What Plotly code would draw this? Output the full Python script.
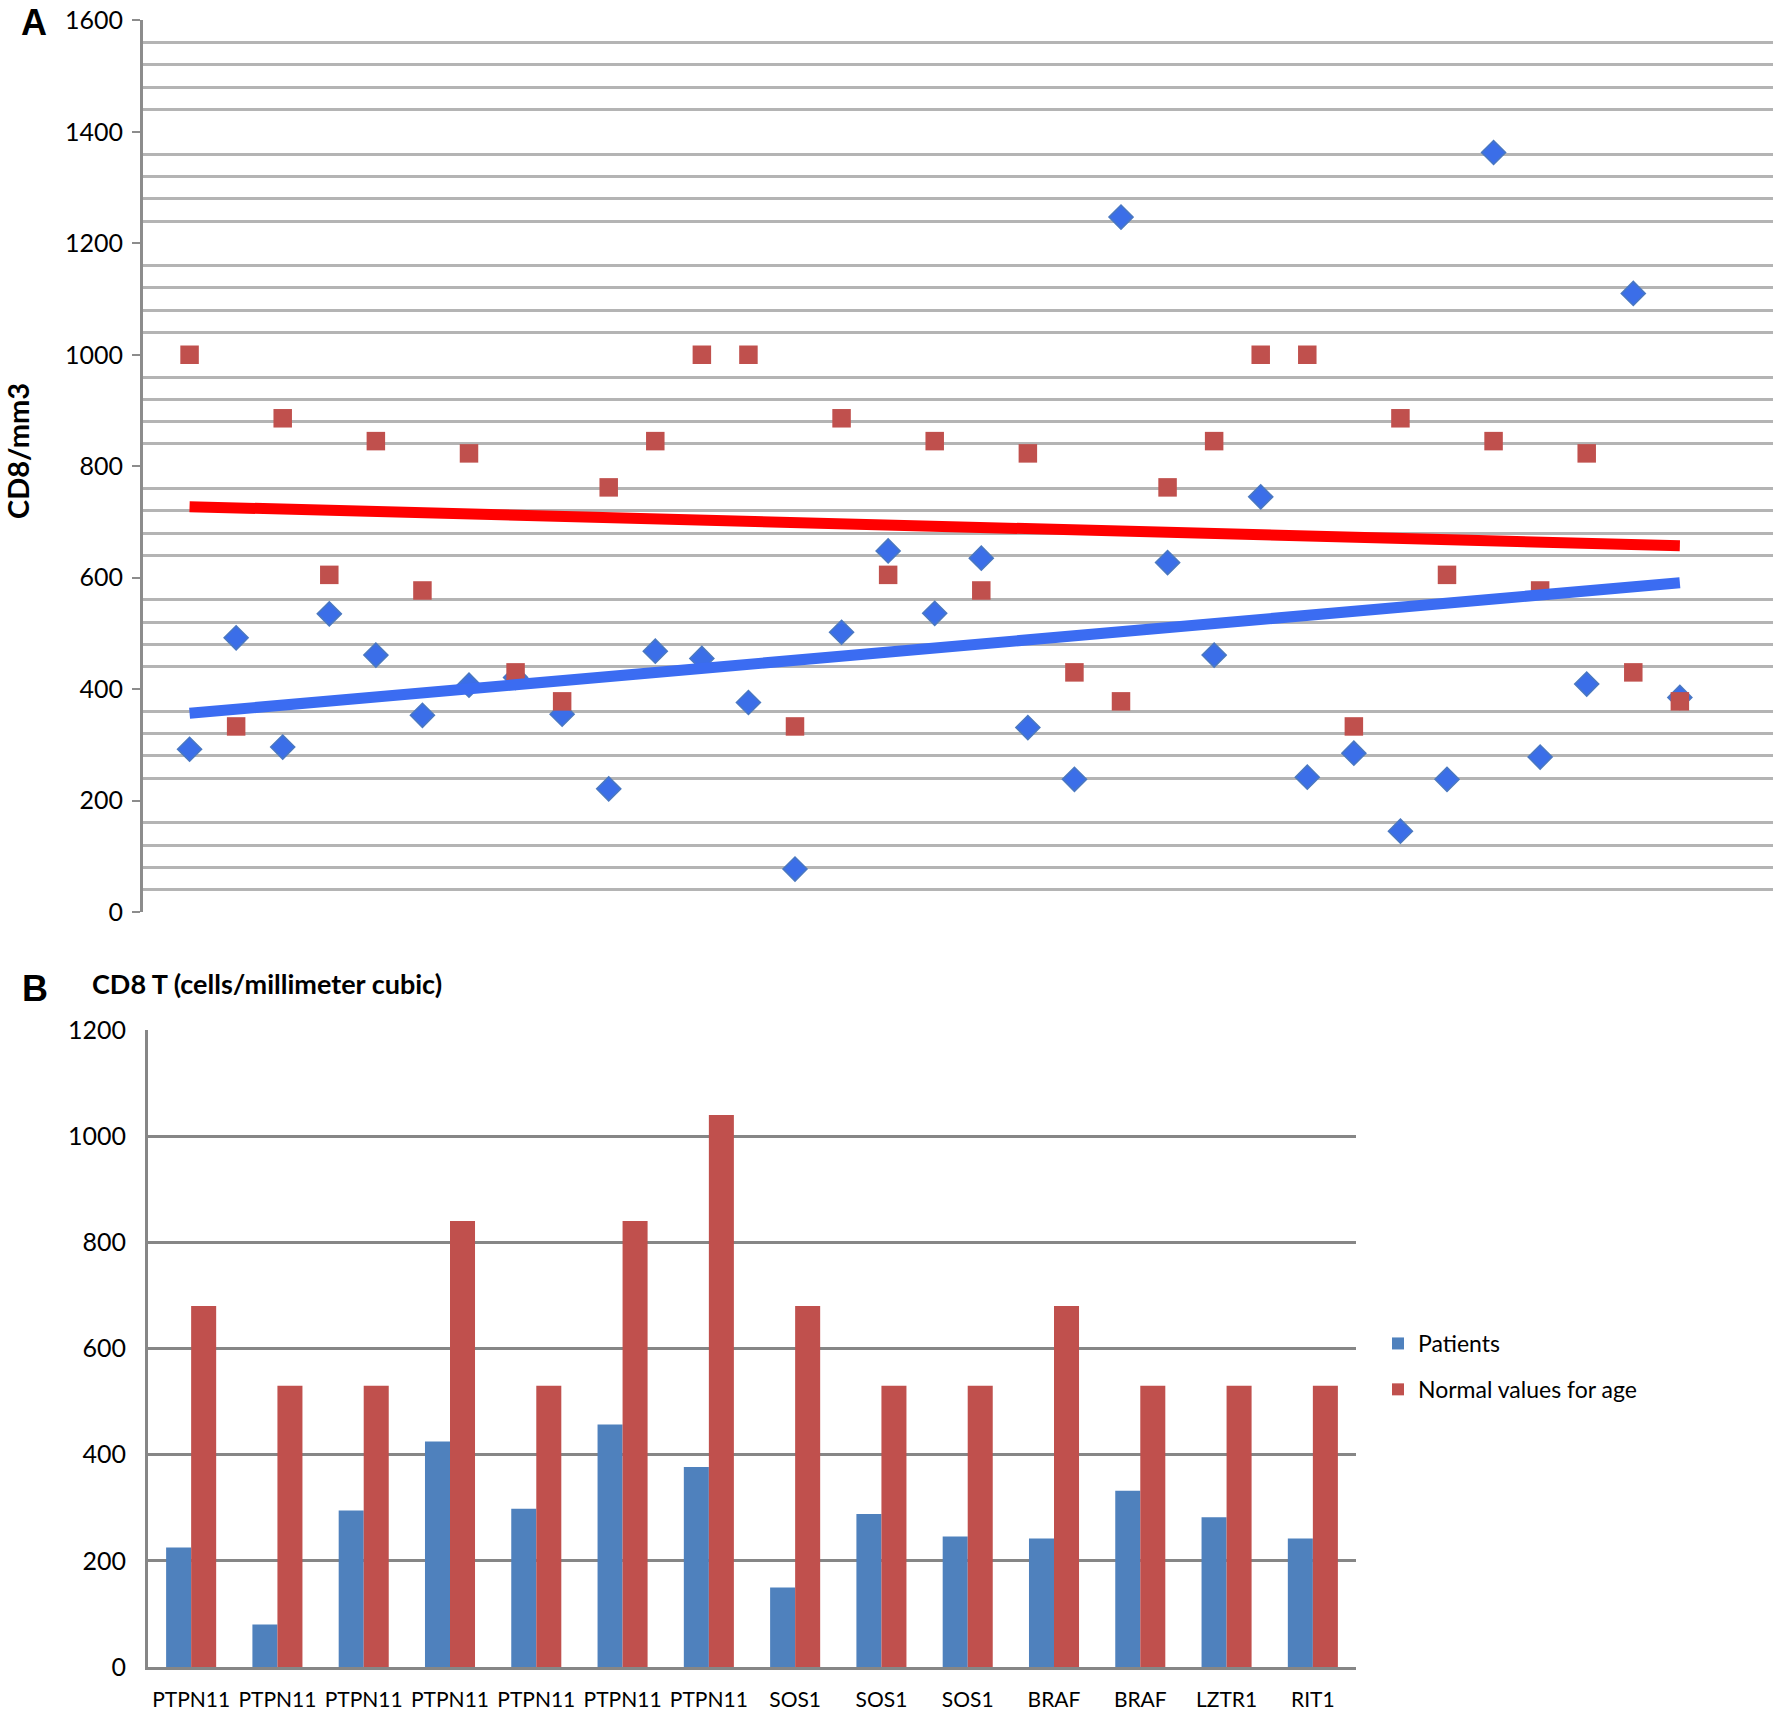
import numpy as np
import plotly.graph_objects as go

# ---------------- Panel A data ----------------
patient_index = list(range(1, 34))
patients_a = [292, 492, 296, 535, 461, 353, 407, 421, 355, 221, 468, 455, 376, 77,
              502, 648, 536, 635, 331, 238, 1247, 627, 461, 745, 242, 285, 145,
              238, 1363, 278, 409, 1110, 385]
normal_a = [1000, 333, 886, 605, 845, 577, 823, 430, 378, 762, 845, 1000,
            1000, 333, 886, 605, 845, 577, 823, 430, 378, 762, 845, 1000,
            1000, 333, 886, 605, 845, 577, 823, 430, 378]

# ---------------- Panel B data ----------------
genes = ["PTPN11", "PTPN11", "PTPN11", "PTPN11", "PTPN11", "PTPN11", "PTPN11",
         "SOS1", "SOS1", "SOS1", "BRAF", "BRAF", "LZTR1", "RIT1"]
patients_b = [225, 80, 295, 425, 298, 457, 377, 150, 288, 246, 242, 332, 282, 242]
normal_b = [680, 530, 530, 840, 530, 840, 1040, 680, 530, 530, 680, 530, 530, 530]

W, H = 1776, 1712
FONT = "Lato, 'Open Sans', sans-serif"

def px(x):
    return x / W

def py(y):
    return 1 - y / H

fig = go.Figure()

# Scatter A
fig.add_trace(go.Scatter(
    x=patient_index, y=patients_a, mode="markers", showlegend=False,
    marker=dict(symbol="diamond", size=18.5, color="#3b6ee8",
                line=dict(color="#4a78c0", width=1.5)),
    xaxis="x", yaxis="y"))
fig.add_trace(go.Scatter(
    x=patient_index, y=normal_a, mode="markers", showlegend=False,
    marker=dict(symbol="square", size=18.5, color="#c0504d"),
    xaxis="x", yaxis="y"))

# Linear trend lines
xs = np.array(patient_index, dtype=float)
for vals, col in [(normal_a, "#ff0000"), (patients_a, "#3b6cf2")]:
    m, b = np.polyfit(xs, np.array(vals, dtype=float), 1)
    xe = [xs[0], xs[-1]]
    fig.add_trace(go.Scatter(
        x=xe, y=[m * v + b for v in xe], mode="lines", showlegend=False,
        line=dict(color=col, width=11), xaxis="x", yaxis="y"))

# Bars B
cat_pos = list(range(len(genes)))
fig.add_trace(go.Bar(x=cat_pos, y=patients_b, name="Patients",
                     marker=dict(color="#4f81bd", line=dict(width=0)),
                     legendgroup="p", xaxis="x2", yaxis="y2"))
fig.add_trace(go.Bar(x=cat_pos, y=normal_b, name="Normal values for age",
                     marker=dict(color="#c0504d", line=dict(width=0)),
                     legendgroup="n", xaxis="x2", yaxis="y2"))

fig.update_layout(
    template="none",
    width=W, height=H,
    margin=dict(l=0, r=0, t=0, b=0, pad=0, autoexpand=False),
    paper_bgcolor="white", plot_bgcolor="white",
    barmode="group", bargap=0.42, bargroupgap=0,
    font=dict(family=FONT, color="#000000"),
    legend=dict(x=px(1378), y=py(1322), xanchor="left", yanchor="top",
                font=dict(family=FONT, size=23, color="#000000"),
                tracegroupgap=13, itemwidth=30, bgcolor="rgba(0,0,0,0)"),
    xaxis=dict(domain=[px(143), px(1773)], range=[0, 35], visible=False,
               anchor="y", automargin=False),
    yaxis=dict(domain=[py(912), py(20.4)], range=[0, 1600], anchor="x",
               automargin=False,
               tick0=0, dtick=200, showgrid=False, zeroline=False,
               ticks="outside", ticklen=8, tickwidth=2, tickcolor="#8c8c8c",
               showline=True, linecolor="#8c8c8c", linewidth=3,
               tickfont=dict(family=FONT, size=25, color="#000000"),
               ticklabelstandoff=4,
               minor=dict(tick0=0, dtick=40, showgrid=True, gridcolor="#b4b4b4",
                          gridwidth=3, ticks="")),
    xaxis2=dict(domain=[px(148), px(1356)], range=[-0.5, len(genes) - 0.5],
                anchor="y2", automargin=False,
                tickmode="array", tickvals=cat_pos, ticktext=genes,
                showgrid=False, zeroline=False, ticks="",
                showline=True, linecolor="#868686", linewidth=3,
                tickfont=dict(family=FONT, size=21, color="#000000"),
                ticklabelstandoff=12),
    yaxis2=dict(domain=[py(1667), py(1030)], range=[0, 1200], anchor="x2",
                automargin=False,
                tick0=0, dtick=200, showgrid=True, gridcolor="#868686",
                gridwidth=3, zeroline=False, ticks="",
                showline=True, linecolor="#868686", linewidth=3,
                tickfont=dict(family=FONT, size=25, color="#000000"),
                ticklabelstandoff=14),
    annotations=[
        dict(text="<b>A</b>", x=px(34), y=py(23), xref="paper", yref="paper",
             xanchor="center", yanchor="middle", showarrow=False,
             font=dict(family="Liberation Sans, Arial", size=36)),
        dict(text="<b>B</b>", x=px(35), y=py(988), xref="paper", yref="paper",
             xanchor="center", yanchor="middle", showarrow=False,
             font=dict(family="Liberation Sans, Arial", size=36)),
        dict(text="<b>CD8/mm3</b>", x=px(18), y=py(451), xref="paper",
             yref="paper", xanchor="center", yanchor="middle",
             showarrow=False, textangle=-90,
             font=dict(family=FONT, size=29)),
        dict(text="<b>CD8 T (cells/millimeter cubic)</b>", x=px(90), y=py(983),
             xref="paper", yref="paper", xanchor="left", yanchor="middle",
             showarrow=False, font=dict(family=FONT, size=27)),
    ],
)

# remove the page's default body margin so the figure fills the window exactly
fig.write_html(
    "out.html",
    config={"displayModeBar": False},
    post_script="document.body.style.margin='0px';document.body.style.padding='0px';",
)
